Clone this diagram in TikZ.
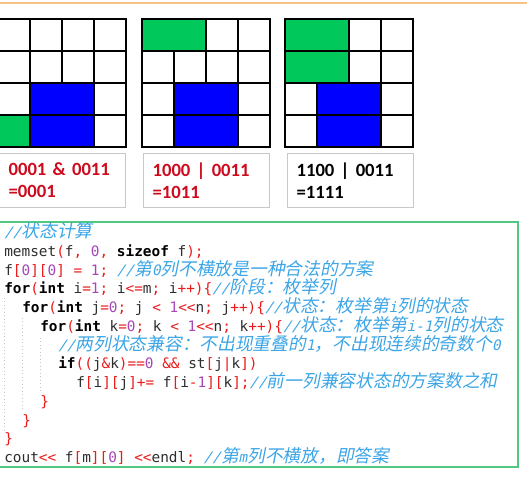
\documentclass[tikz,border=0pt]{standalone}
\usepackage{fontspec}
\usepackage{xcolor}
\usepackage{tikz}
\setmonofont{DejaVu Sans Mono}
\newfontfamily\boxfont{Carlito}
\newfontfamily\monoit[FakeSlant=0.2]{DejaVu Sans Mono}
\newfontfamily\cjkit[FakeSlant=0.2]{Noto Sans CJK SC}
\definecolor{tileblue}{RGB}{0, 0, 255}
\definecolor{tilegreen}{RGB}{0, 200, 90}
\definecolor{rulelight}{RGB}{247, 195, 130}
\definecolor{frameGreen}{RGB}{80, 200, 130}
\definecolor{boxgray}{RGB}{200, 200, 200}
\definecolor{resultred}{RGB}{205, 10, 30}
\definecolor{codered}{RGB}{235, 25, 25}
\definecolor{codepurple}{RGB}{165, 70, 185}
\definecolor{codeblue}{RGB}{60, 165, 230}
\definecolor{codetext}{RGB}{45, 45, 45}
% syntax colours of the code listing
\newcommand{\kw}[1]{{\bfseries\color{black}#1}}
\newcommand{\op}[1]{{\color{codered}#1}}
\newcommand{\nm}[1]{{\color{codepurple}#1}}
\newcommand{\zh}[1]{{\cjkit\fontsize{13.3pt}{13pt}\selectfont #1}}
\newcommand{\cm}[1]{{\color{codeblue}\monoit #1}}

\begin{document}
\begin{tikzpicture}[x=0.75pt, y=-0.75pt,
  cell/.style={draw=black, line width=1.4pt, fill=white},
  domino/.style={draw=black, line width=1.4pt},
  lblbox/.style={draw=boxgray, line width=0.9pt, anchor=north west, minimum width=94.5pt, minimum height=40.5pt, text width=81pt, inner xsep=6.75pt, align=left, font=\boxfont\bfseries\fontsize{14pt}{16.5pt}\selectfont},
  codeline/.style={anchor=base west, inner sep=0pt, text=codetext, font=\ttfamily\fontsize{10.8pt}{13pt}\selectfont},
  guide/.style={draw=gray!45, dotted, line width=0.6pt}]
\useasboundingbox (0,0) rectangle (527,482);

% Top rule
\draw[rulelight, line width=1.1pt] (0,3) -- (527,3);

% Three 4x4 boards
\foreach \gx in {-2,142,285} {
  \foreach \i in {0,...,3} {
    \foreach \j in {0,...,3} {
      \draw[cell] (\gx+32*\i,19+32*\j) rectangle ++(32,32);
    }
  }
}
% Board 1
\draw[domino, fill=tilegreen] (-2,115) rectangle ++(32,32);
\draw[domino, fill=tileblue] (30,83) rectangle ++(64,32);
\draw[domino, fill=tileblue] (30,115) rectangle ++(64,32);
% Board 2
\draw[domino, fill=tilegreen] (142,19) rectangle ++(64,32);
\draw[domino, fill=tileblue] (174,83) rectangle ++(64,32);
\draw[domino, fill=tileblue] (174,115) rectangle ++(64,32);
% Board 3
\draw[domino, fill=tilegreen] (285,19) rectangle ++(64,32);
\draw[domino, fill=tilegreen] (285,51) rectangle ++(64,32);
\draw[domino, fill=tileblue] (317,83) rectangle ++(64,32);
\draw[domino, fill=tileblue] (317,115) rectangle ++(64,32);

% Bit operations under the boards
\node[lblbox, text=resultred] (andBox) at (-1,153) {0001 \& 0011\\=0001};
\node[lblbox, text=resultred] (orBox) at (143,153) {1000 | 0011\\=1011};
\node[lblbox, text=black] (sumBox) at (287,153) {1100 | 0011\\=1111};

% Code frame
\draw[frameGreen, line width=1.1pt] (-2,222) rectangle (518,467);
\draw[guide] (4,298) -- (4,430);
\draw[guide] (22,318) -- (22,410);
\draw[guide] (40,338) -- (40,392);

% Code lines
\node[codeline] (c1) at (4,237.5) {\cm{//\zh{状态计算}}};
\node[codeline] (c2) at (4,256.25) {memset\op{(}f\op{,} \nm{0}\op{,} \kw{sizeof} f\op{);}};
\node[codeline] (c3) at (4,275) {f\op{[}\nm{0}\op{][}\nm{0}\op{]} \op{=} \nm{1}\op{;} \cm{//\zh{第}0\zh{列不横放是一种合法的方案}}};
\node[codeline] (c4) at (4,293.75) {\kw{for}\op{(}\kw{int} i\op{=}\nm{1}\op{;} i\op{<=}m\op{;} i\op{++)\{}\cm{//\zh{阶段：枚举列}}};
\node[codeline] (c5) at (22,312.5) {\kw{for}\op{(}\kw{int} j\op{=}\nm{0}\op{;} j \op{<} \nm{1}\op{<{}<}n\op{;} j\op{++)\{}\cm{//\zh{状态：枚举第}i\zh{列的状态}}};
\node[codeline] (c6) at (40,331.25) {\kw{for}\op{(}\kw{int} k\op{=}\nm{0}\op{;} k \op{<} \nm{1}\op{<{}<}n\op{;} k\op{++)\{}\cm{//\zh{状态：枚举第}i-1\zh{列的状态}}};
\node[codeline] (c7) at (58,350) {\cm{//\zh{两列状态兼容：不出现重叠的}1\zh{，不出现连续的奇数个}0}};
\node[codeline] (c8) at (58,368.75) {\kw{if}\op{((}j\op{\&}k\op{)==}\nm{0} \op{\&\&} st\op{[}j\op{|}k\op{])}};
\node[codeline] (c9) at (76,387.5) {f\op{[}i\op{][}j\op{]+=} f\op{[}i\op{-}\nm{1}\op{][}k\op{];}\cm{//\zh{前一列兼容状态的方案数之和}}};
\node[codeline] (c10) at (40,406.25) {\op{\}}};
\node[codeline] (c11) at (22,425) {\op{\}}};
\node[codeline] (c12) at (4,443.75) {\op{\}}};
\node[codeline] (c13) at (4,462.5) {cout\op{<{}<} f\op{[}m\op{][}\nm{0}\op{]} \op{<{}<}endl\op{;} \cm{//\zh{第}m\zh{列不横放，即答案}}};
\end{tikzpicture}
\end{document}
